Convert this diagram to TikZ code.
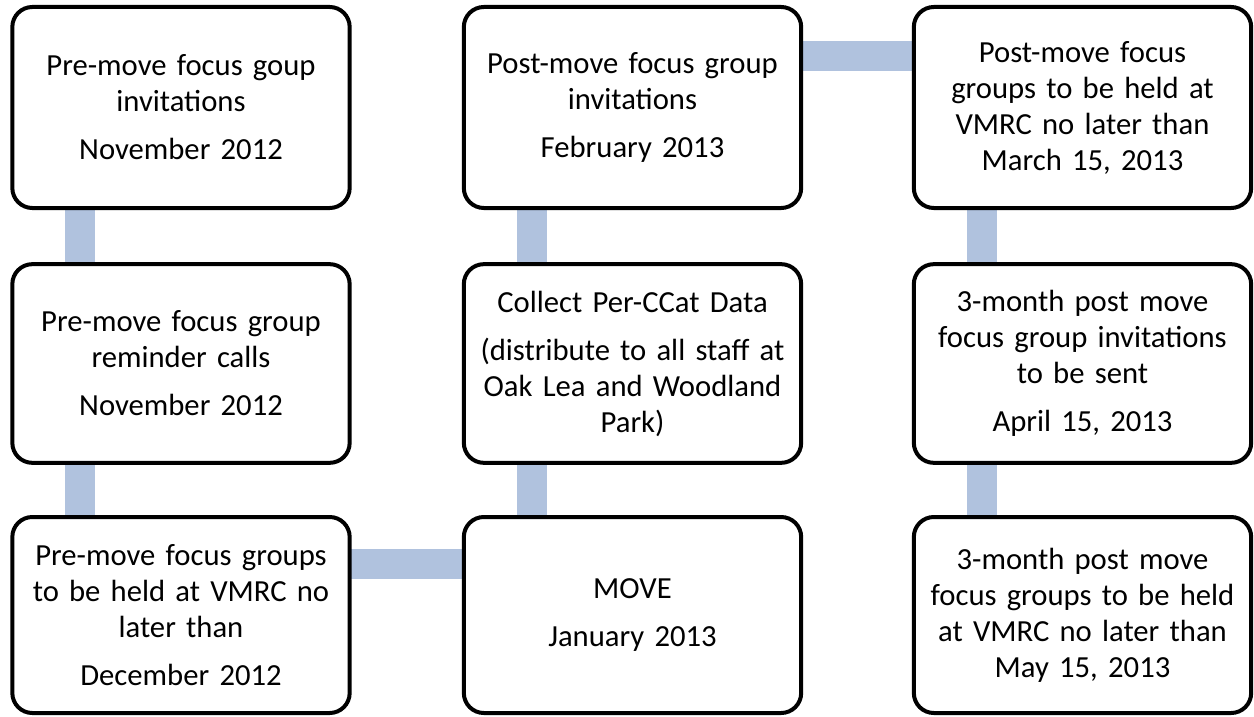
\documentclass[tikz,border=0pt]{standalone}
\usepackage{fontspec}
\setmainfont{Carlito}
\usetikzlibrary{calc,backgrounds}
\definecolor{linkblue}{RGB}{176,194,222}
\tikzset{
  box/.style={draw=black, line width=3pt, fill=white, rounded corners=15pt,
    minimum width=253pt, outer sep=0pt, align=center, text width=240pt,
    font=\fontsize{23}{27}\selectfont},
  row1/.style={minimum height=150.75pt},
  row2/.style={minimum height=149pt},
  row3/.style={minimum height=147pt},
  link/.style={draw=linkblue, line width=22.5pt}
}
\begin{document}
\begin{tikzpicture}[x=0.75pt,y=-0.75pt]
\useasboundingbox (0,0) rectangle (1254,717);
\node[box,row1] (a1) at (181,107.5) {Pre-move focus goup\\invitations\\[9pt]November 2012};
\node[box,row2] (a2) at (181,363.5) {Pre-move focus group\\reminder calls\\[9pt]November 2012};
\node[box,row3] (a3) at (181,615) {Pre-move focus groups\\to be held at VMRC no\\later than\\[9pt]December 2012};
\node[box,row1] (b1) at (632.5,107.5) {Post-move focus group\\invitations\\[9pt]February 2013};
\node[box,row2] (b2) at (632.5,363.5) {Collect Per-CCat Data\\[9pt](distribute to all staff at\\Oak Lea and Woodland\\Park)};
\node[box,row3] (b3) at (632.5,615) {MOVE\\[9pt]January 2013};
\node[box,row1] (c1) at (1082.5,107.5) {Post-move focus\\groups to be held at\\VMRC no later than\\March 15, 2013};
\node[box,row2] (c2) at (1082.5,363.5) {3-month post move\\focus group invitations\\to be sent\\[9pt]April 15, 2013};
\node[box,row3] (c3) at (1082.5,615) {3-month post move\\focus groups to be held\\at VMRC no later than\\May 15, 2013};
\begin{scope}[on background layer]
\draw[link] ($(a1.south west)+(68,0)$) -- ($(a2.north west)+(68,0)$);
\draw[link] ($(a2.south west)+(68,0)$) -- ($(a3.north west)+(68,0)$);
\draw[link] ($(a3.north east)+(0,47)$) -- ($(b3.north west)+(0,47)$);
\draw[link] ($(b3.north west)+(68,0)$) -- ($(b2.south west)+(68,0)$);
\draw[link] ($(b2.north west)+(68,0)$) -- ($(b1.south west)+(68,0)$);
\draw[link] ($(b1.north east)+(0,49)$) -- ($(c1.north west)+(0,49)$);
\draw[link] ($(c1.south west)+(68,0)$) -- ($(c2.north west)+(68,0)$);
\draw[link] ($(c2.south west)+(68,0)$) -- ($(c3.north west)+(68,0)$);
\end{scope}
\end{tikzpicture}
\end{document}
